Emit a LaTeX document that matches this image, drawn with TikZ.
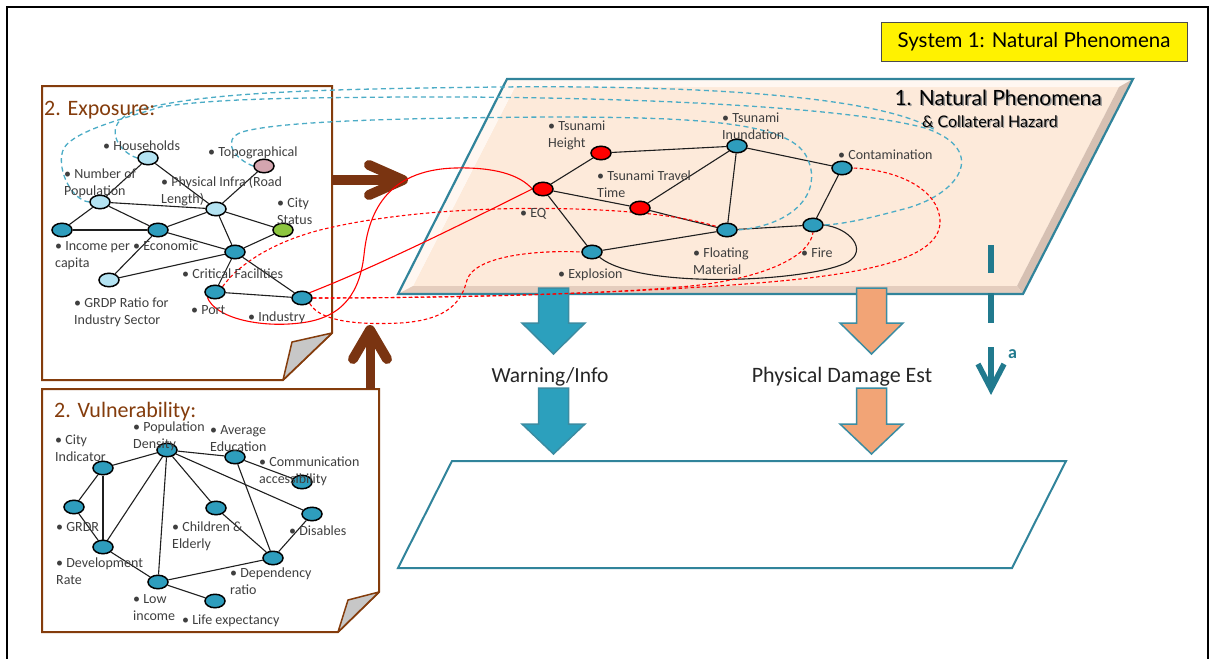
\documentclass[tikz,border=0pt]{standalone}
\usepackage{fontspec}
\setmainfont{Carlito}
\newfontfamily\headfont{Lato}
\usetikzlibrary{shapes.geometric}
\pgfdeclarelayer{back}
\pgfdeclarelayer{mid}
\pgfsetlayers{back,mid,main}

\definecolor{brownbox}{HTML}{843C0C}
\definecolor{brownarrow}{HTML}{7A3411}
\definecolor{tealnode}{HTML}{2E9DBD}
\definecolor{lightnode}{HTML}{B4E3F2}
\definecolor{pinknode}{HTML}{D4A5AF}
\definecolor{greennode}{HTML}{8DC63F}
\definecolor{panelfill}{HTML}{FDEADA}
\definecolor{bevellight}{HTML}{FFF7F1}
\definecolor{bevelright}{HTML}{D6C0B2}
\definecolor{bevelbottom}{HTML}{E4CDBE}
\definecolor{panelline}{HTML}{31849B}
\definecolor{dashblue}{HTML}{4BACC6}
\definecolor{arrowteal}{HTML}{2CA0BD}
\definecolor{arroworange}{HTML}{F2A476}
\definecolor{arrowedge}{HTML}{3B8CA2}
\definecolor{darkteal}{HTML}{217A8E}
\definecolor{labelgray}{HTML}{3F3F3F}

% two-line bullet label, baseline on the first line
\newcommand{\twoln}[2]{\vtop{\hbox{#1}\hbox{#2}}}
% block arrow pointing down: centre x, top y, head y, tip y, fill
\newcommand{\downblock}[5]{%
  \filldraw[fill=#5, draw=arrowedge, line width=1.5pt, line join=miter]
    ({#1-15},#2) -- ({#1+15},#2) -- ({#1+15},#3) -- ({#1+31.5},#3) --
    (#1,#4) -- ({#1-31.5},#3) -- ({#1-15},#3) -- cycle;}

\begin{document}
\begin{tikzpicture}[x=1pt,y=-1pt,
  nd/.style={ellipse, draw=black, line width=1.5pt, minimum width=20pt,
    minimum height=13.5pt, inner sep=0pt},
  tn/.style={nd, fill=tealnode},
  ln/.style={nd, fill=lightnode},
  rn/.style={nd, fill=red},
  lb/.style={anchor=base west, inner sep=0pt, text=labelgray,
    font=\fontsize{14}{17}\selectfont},
  edge/.style={line width=1.1pt, draw=black!88},
  rdash/.style={draw=red, line width=1.1pt, dash pattern=on 3.5pt off 2.5pt},
  rsolid/.style={draw=red, line width=1.1pt},
  bdash/.style={draw=dashblue, line width=1.3pt, dash pattern=on 5pt off 3.5pt},
  boxtitle/.style={anchor=base west, inner sep=0pt, text=brownbox,
    font=\fontsize{22}{26}\selectfont},
  bigarrow/.style={draw=brownarrow, line width=10pt, line cap=round, line join=round}]

\useasboundingbox (0,0) rectangle (1211,659);
\clip (0,0) rectangle (1211,659);

% ---------- background shapes ----------
\begin{pgfonlayer}{back}
  \fill[white] (0,0) rectangle (1211,659);
  \draw[line width=1.8pt] (7,680) -- (7,7) -- (1208,7) -- (1208,680);

  % exposure sheet with folded corner
  \filldraw[draw=brownbox, line width=2pt, fill=white, line join=miter]
    (42,86) -- (332,86) -- (332,333) -- (283,380) -- (42,380) -- cycle;
  \filldraw[draw=brownbox, line width=1.5pt, fill=black!22, line join=round]
    (283,380) -- (292,342) -- (332,333) -- cycle;

  % vulnerability sheet with folded corner
  \filldraw[draw=brownbox, line width=2pt, fill=white, line join=miter]
    (42,389) -- (379,389) -- (379,592) -- (338,632) -- (42,632) -- cycle;
  \filldraw[draw=brownbox, line width=1.5pt, fill=black!22, line join=round]
    (338,632) -- (348,600) -- (379,592) -- cycle;

  % bevelled hazard plane
  \fill[panelfill] (515,87) -- (1119,87) -- (1017,286) -- (413,286) -- cycle;
  \fill[bevellight] (507,79) -- (1133,79) -- (1119,87) -- (515,87) -- cycle;
  \fill[bevellight] (507,79) -- (515,87) -- (413,286) -- (398,294) -- cycle;
  \fill[bevelright] (1133,79) -- (1023,294) -- (1017,286) -- (1119,87) -- cycle;
  \fill[bevelbottom] (398,294) -- (413,286) -- (1017,286) -- (1023,294) -- cycle;
  \draw[panelline, line width=2.2pt, line join=miter]
    (507,79) -- (1133,79) -- (1023,294) -- (398,294) -- cycle;

  % output plane
  \draw[panelline, line width=2pt, fill=white, line join=miter]
    (452,461) -- (1066,461) -- (1012,568) -- (398,568) -- cycle;

  % flow arrows
  \downblock{553.5}{288}{323}{354}{arrowteal}
  \downblock{553.5}{388}{424}{454}{arrowteal}
  \downblock{871.5}{288}{323}{354}{arroworange}
  \downblock{871.5}{388}{424}{454}{arroworange}

  % time-step marker
  \fill[darkteal] (988,245) rectangle (994,273);
  \fill[darkteal] (988,293) rectangle (994,323);
  \draw[darkteal, line width=6pt] (991,347) -- (991,386);
  \draw[darkteal, line width=5.5pt, line join=miter] (978,364) -- (991,389) -- (1004,364);

  % exposure -> hazard, vulnerability -> exposure
  \coordinate (expout) at (332,180);
  \coordinate (hazin) at (403,180);
  \coordinate (vulout) at (370,389);
  \coordinate (expin) at (370,330);
  \draw[draw=brownarrow, line width=10pt] (expout) -- (398,180);
  \draw[bigarrow] (369,165) -- (hazin) -- (369,195);
  \draw[draw=brownarrow, line width=9pt] (vulout) -- (370,336);
  \draw[bigarrow] (353,359) -- (expin) -- (387,359);
\end{pgfonlayer}

% ---------- titles ----------
\node[draw=black!70, fill=yellow, line width=0.8pt, minimum width=306pt,
  minimum height=39pt, inner sep=0pt, font=\headfont\fontsize{20.5}{23}\selectfont]
  (sys) at (1034,41.5) {System 1: Natural Phenomena};
\node[boxtitle] (expt) at (44,115) {2. Exposure:};
\node[boxtitle] (vult) at (54,417) {2. Vulnerability:};
\node[anchor=base east, inner sep=0pt, text=black!40, font=\headfont\fontsize{21}{24}\selectfont]
  at (1103.5,106.5) {1. Natural Phenomena};
\node[anchor=base east, inner sep=0pt, font=\headfont\fontsize{21}{24}\selectfont]
  (nph) at (1102,105) {1. Natural Phenomena};
\node[anchor=base east, inner sep=0pt, text=black!40, font=\headfont\fontsize{16}{19}\selectfont]
  at (1059.2,128.2) {\& Collateral Hazard};
\node[anchor=base east, inner sep=0pt, font=\headfont\fontsize{16}{19}\selectfont]
  (colh) at (1058,127) {\& Collateral Hazard};
\node[anchor=base, inner sep=0pt, font=\fontsize{21.5}{25}\selectfont, text=black!85]
  (warn) at (550,382) {Warning/Info};
\node[anchor=base, inner sep=0pt, font=\fontsize{22}{25}\selectfont, text=black!85]
  (phys) at (842,382) {Physical Damage Est};
\node[anchor=base west, inner sep=0pt, text=darkteal, font=\bfseries\fontsize{18}{20}\selectfont]
  (alab) at (1008,358) {a};

% ---------- exposure network ----------
\node[ln] (hh) at (148,158) {};
\node[nd, fill=pinknode] (topo) at (264,166) {};
\node[ln] (np) at (100,202) {};
\node[ln] (pi) at (216,209) {};
\node[nd, fill=greennode] (city) at (283,230) {};
\node[tn] (inc) at (62,230) {};
\node[tn] (eco) at (158,230) {};
\node[tn] (crit) at (235,252) {};
\node[ln] (grdp) at (109,280) {};
\node[tn] (port) at (215,292) {};
\node[tn] (ind) at (302,298) {};

% ---------- vulnerability network ----------
\node[tn] (ci) at (103,468) {};
\node[tn] (pd) at (167,450) {};
\node[tn] (ae) at (235,457) {};
\node[tn] (com) at (302,482) {};
\node[tn] (grdr) at (74,507) {};
\node[tn] (ch) at (216,508) {};
\node[tn] (dis) at (312,514) {};
\node[tn] (dev) at (103,547) {};
\node[tn] (dep) at (273,558) {};
\node[tn] (low) at (158,582) {};
\node[tn] (life) at (215,601) {};

% ---------- hazard network ----------
\node[rn] (th) at (601,153) {};
\node[rn] (eq) at (543,189) {};
\node[rn] (tt) at (640,208) {};
\node[tn] (ti) at (737,146) {};
\node[tn] (fm) at (727,230) {};
\node[tn] (ex) at (592,252) {};
\node[tn] (fire) at (813,225) {};
\node[tn] (cont) at (842,168) {};

% ---------- links ----------
\begin{pgfonlayer}{mid}
  \foreach \a/\b in {hh/np, hh/pi, np/pi, np/inc, np/eco, inc/eco, eco/pi,
      eco/crit, eco/grdp, pi/topo, pi/city, pi/crit, crit/city, crit/grdp,
      crit/port, crit/ind, port/ind,
      ci/pd, ci/grdr, ci/dev, pd/dev, pd/low, pd/ch, pd/ae, pd/dis, ae/com,
      ae/dep, ch/dep, dis/dep, grdr/dev, dev/low, low/dep, low/life,
      eq/th, eq/tt, eq/ex, th/ti, tt/ti, tt/fm, ti/fm, ti/cont, ex/fm,
      fm/fire, fire/cont}
    \draw[edge] (\a) -- (\b);
  \draw[edge] (ex.south east) .. controls (640,290) and (810,282) .. (848,262)
    .. controls (868,250) and (850,228) .. (fire.east);

  % exposure -> hazard influences
  \draw[bdash] (hh.west) .. controls (118,152) and (100,124) .. (135,111)
    .. controls (200,92) and (320,89) .. (500,87)
    .. controls (700,85) and (880,96) .. (935,130);
  \draw[bdash] (np.west) .. controls (70,200) and (55,165) .. (64,148)
    .. controls (75,130) and (130,117) .. (160,107)
    .. controls (220,98) and (300,98) .. (400,97)
    .. controls (600,96) and (840,105) .. (925,128)
    .. controls (990,150) and (960,196) .. (900,210)
    .. controls (870,218) and (845,224) .. (fire.east);
  \draw[bdash] (topo.west) .. controls (236,160) and (220,140) .. (242,132)
    .. controls (280,121) and (400,118) .. (550,117)
    .. controls (700,117) and (795,122) .. (808,160)
    .. controls (822,192) and (795,225) .. (fm.east);

  \draw[rsolid] (ind.north east) .. controls (380,265) and (460,225) .. (eq.west);
  \draw[rsolid] (port.south west) .. controls (215,318) and (260,328) .. (300,323)
    .. controls (345,318) and (360,290) .. (364,255)
    .. controls (368,215) and (385,170) .. (455,168)
    .. controls (495,167) and (520,175) .. (eq.west);
  \draw[rdash] (port.north east) .. controls (240,262) and (280,238) .. (333,227)
    .. controls (400,212) and (500,205) .. (600,210)
    .. controls (660,213) and (700,220) .. (fm.center);
  \draw[rdash] (ind.east) .. controls (400,298) and (600,296) .. (700,285)
    .. controls (770,276) and (810,255) .. (fire.south);
  \draw[rdash] (ind.east) .. controls (500,298) and (700,290) .. (800,279)
    .. controls (880,270) and (942,255) .. (940,220)
    .. controls (938,190) and (900,170) .. (cont.east);
  \draw[rdash] (ind.south east) .. controls (320,322) and (360,325) .. (400,323)
    .. controls (450,320) and (462,300) .. (467,280)
    .. controls (475,255) and (540,250) .. (ex.west);
\end{pgfonlayer}

% ---------- labels ----------
\node[lb] (lhh) at (103,150) {• Households};
\node[lb] (ltopo) at (208,156) {• Topographical};
\node[lb] (lnp) at (64,178) {\twoln{• Number of}{Population}};
\node[lb] (lpi) at (161,186) {\twoln{• Physical Infra (Road}{Length)}};
\node[lb] (lcity) at (277,207) {\twoln{• City}{Status}};
\node[lb] (linc) at (55,250) {\twoln{• Income per}{capita}};
\node[lb] (leco) at (133,250) {• Economic};
\node[lb] (lcrit) at (182,278) {• Critical Facilities};
\node[lb] (lgrdp) at (74,307) {\twoln{• GRDP Ratio for}{Industry Sector}};
\node[lb] (lport) at (191,314) {• Port};
\node[lb] (lind) at (248,321) {• Industry};

\node[lb] (lci) at (55,444) {\twoln{• City}{Indicator}};
\node[lb] (lpd) at (133,431) {\twoln{• Population}{Density}};
\node[lb] (lae) at (210,434) {\twoln{• Average}{Education}};
\node[lb] (lcom) at (259,466) {\twoln{• Communication}{accessibility}};
\node[lb] (lgrdr) at (56,531) {• GRDR};
\node[lb] (lch) at (172,531) {\twoln{• Children \&}{Elderly}};
\node[lb] (ldis) at (289,535) {• Disables};
\node[lb] (ldev) at (56,567) {\twoln{• Development}{Rate}};
\node[lb] (ldep) at (230,577) {\twoln{• Dependency}{ratio}};
\node[lb] (llow) at (133,603) {\twoln{• Low}{income}};
\node[lb] (llife) at (182,624) {• Life expectancy};

\node[lb] (lth) at (548,130) {\twoln{• Tsunami}{Height}};
\node[lb] (ltt) at (597,180) {\twoln{• Tsunami Travel}{Time}};
\node[lb] (leq) at (520,217) {• EQ};
\node[lb] (lti) at (722,122) {\twoln{• Tsunami}{Inundation}};
\node[lb] (lcont) at (838,159) {• Contamination};
\node[lb] (lfm) at (693,257) {\twoln{• Floating}{Material}};
\node[lb] (lfire) at (801,257) {• Fire};
\node[lb] (lex) at (558,278) {• Explosion};
\end{tikzpicture}
\end{document}
